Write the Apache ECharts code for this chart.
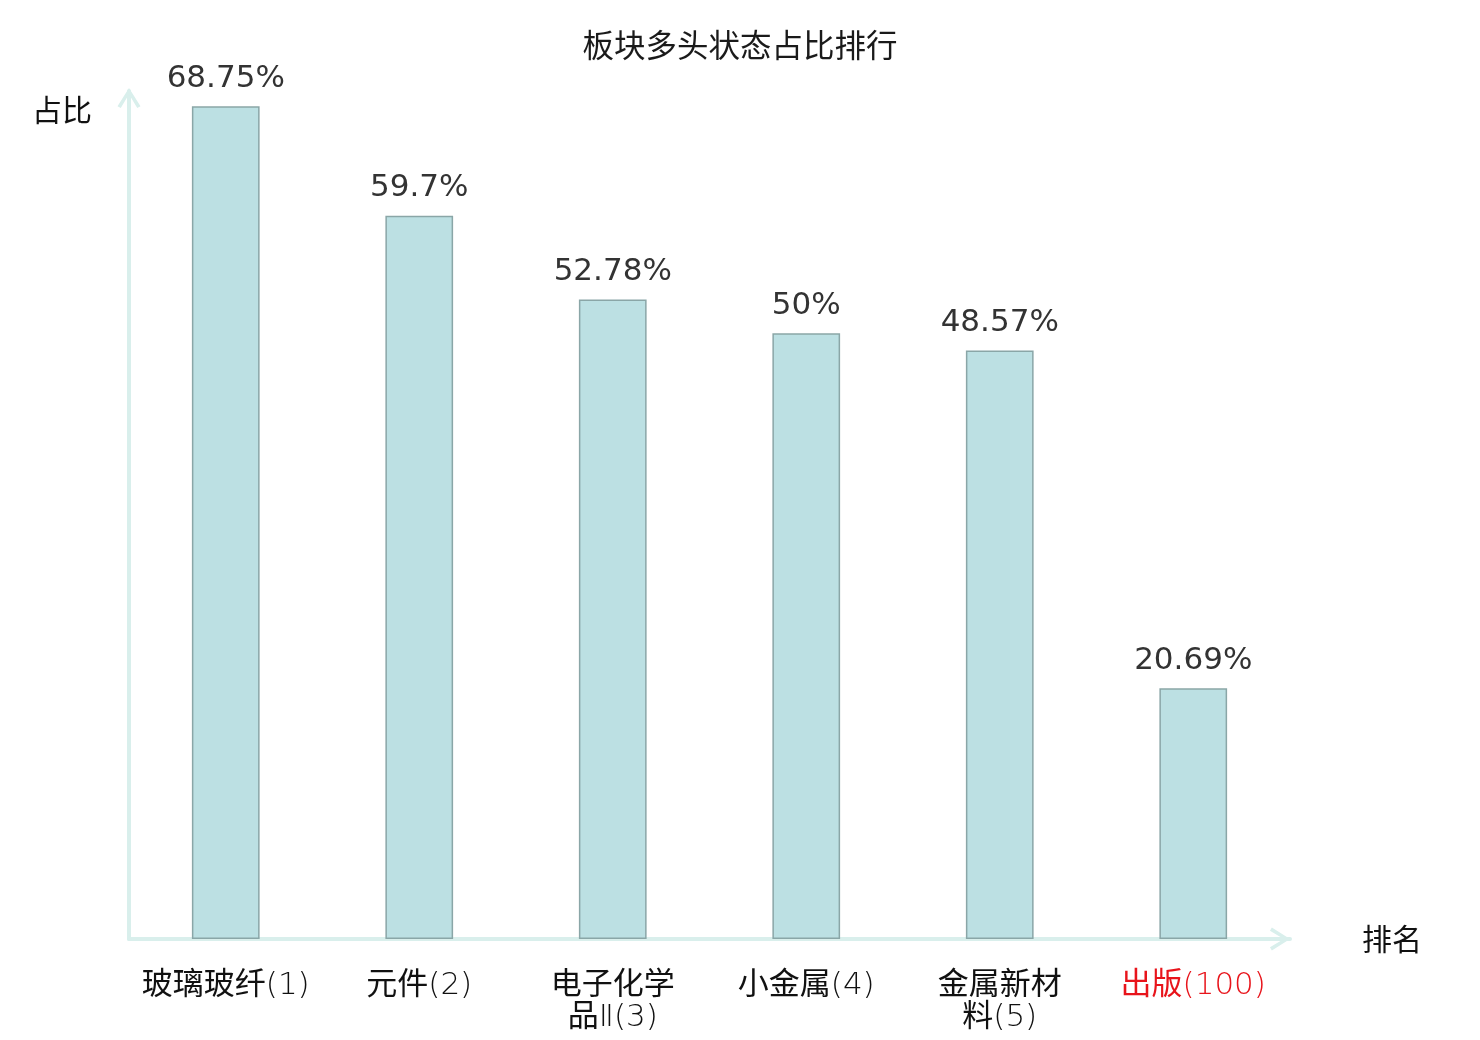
<!DOCTYPE html>
<html lang="zh">
<head>
  <meta charset="UTF-8">
  <title>板块多头状态占比排行</title>
  <style>
    html, body { margin: 0; padding: 0; background: #fff; }
    #chart { width: 1480px; height: 1040px; }
  </style>
</head>
<body>
  <div id="chart"></div>
  <script src="https://cdn.jsdelivr.net/npm/echarts@6/dist/echarts.min.js"></script>
  <script type="text/javascript">
  // 数据
  var names = ['玻璃玻纤', '元件', '电子化学品Ⅱ', '小金属', '金属新材料', '出版'];
  var ranks = [1, 2, 3, 4, 5, 100];
  var ratios = [68.75, 59.7, 52.78, 50, 48.57, 20.69];
  var yMax = 70;

  var categories = names.map(function (n, i) { return n + '(' + ranks[i] + ')'; });

  // 名称超过4个字时换行；中文常规字重，括号序号用细体
  function wrapName(value, idx) {
    var n = names[idx];
    var red = idx === names.length - 1 ? 'r' : '';
    var rank = '{lat' + red + '|(' + ranks[idx] + ')}';
    if (n.length > 4) {
      return '{cjk' + red + '|' + n.slice(0, 4) + '}\n{cjk' + red + '|' + n.slice(4).replace('Ⅱ', '') + '}' +
        (n.indexOf('Ⅱ') > 3 ? '{lat' + red + '|Ⅱ}' : '') + rank;
    }
    return '{cjk' + red + '|' + n + '}' + rank;
  }

  // 开口箭头
  var chevron = 'path://M12,0 L24,19 L20.6,21 L12,6.5 L3.4,21 L0,19 Z';
  var axisColor = '#d9efec';
  var black = '#111';
  var red = '#e8141b';

  function richStyle(color, light) {
    return {
      fontFamily: light ? 'DejaVu Sans' : 'Noto Sans CJK SC',
      fontWeight: light ? 200 : 'normal',
      fontSize: 31,
      lineHeight: 32,
      padding: light ? [0, 0, 0, 0] : [0, 0, 8, 0],
      color: color
    };
  }

  var myChart = echarts.init(document.getElementById('chart'));
  var option = {
    backgroundColor: '#fff',
    title: {
      text: '板块多头状态占比排行',
      left: 'center',
      top: 24,
      textStyle: {
        fontFamily: 'Noto Sans CJK SC',
        fontSize: 31.5,
        fontWeight: 'normal',
        color: '#1a1a1a'
      }
    },
    grid: { left: 129, right: 190, top: 91, bottom: 101 },
    xAxis: {
      type: 'category',
      data: categories,
      name: '排名',
      nameLocation: 'end',
      nameGap: 72,
      nameTextStyle: {
        fontFamily: 'Noto Sans CJK SC',
        fontSize: 30,
        color: black
      },
      axisLine: {
        symbol: ['none', chevron],
        symbolSize: [23, 21],
        symbolOffset: [0, -10],
        lineStyle: { color: axisColor, width: 4 }
      },
      axisTick: { show: false },
      axisLabel: {
        interval: 0,
        margin: 31,
        fontSize: 31,
        lineHeight: 32,
        formatter: wrapName,
        rich: {
          cjk: richStyle(black, false),
          lat: richStyle(black, true),
          cjkr: richStyle(red, false),
          latr: richStyle(red, true)
        }
      }
    },
    yAxis: {
      type: 'value',
      min: 0,
      max: yMax,
      name: '占比',
      nameLocation: 'end',
      nameGap: -19,
      nameTextStyle: {
        fontFamily: 'Noto Sans CJK SC',
        fontSize: 30,
        color: black,
        align: 'right',
        verticalAlign: 'middle',
        padding: [0, 37, 0, 0]
      },
      axisLine: {
        show: true,
        symbol: ['none', chevron],
        symbolSize: [23, 21],
        symbolOffset: [0, -7],
        lineStyle: { color: axisColor, width: 4 }
      },
      axisTick: { show: false },
      axisLabel: { show: false },
      splitLine: { show: false }
    },
    series: [{
      type: 'bar',
      data: ratios,
      barWidth: '35%',
      itemStyle: {
        color: '#bce0e3',
        borderColor: '#8aa6a7',
        borderWidth: 1.5
      },
      label: {
        show: true,
        position: 'top',
        distance: 12,
        formatter: '{c}%',
        fontFamily: 'DejaVu Sans',
        fontSize: 31,
        color: '#333'
      }
    }]
  };
  myChart.setOption(option);
  </script>
</body>
</html>
